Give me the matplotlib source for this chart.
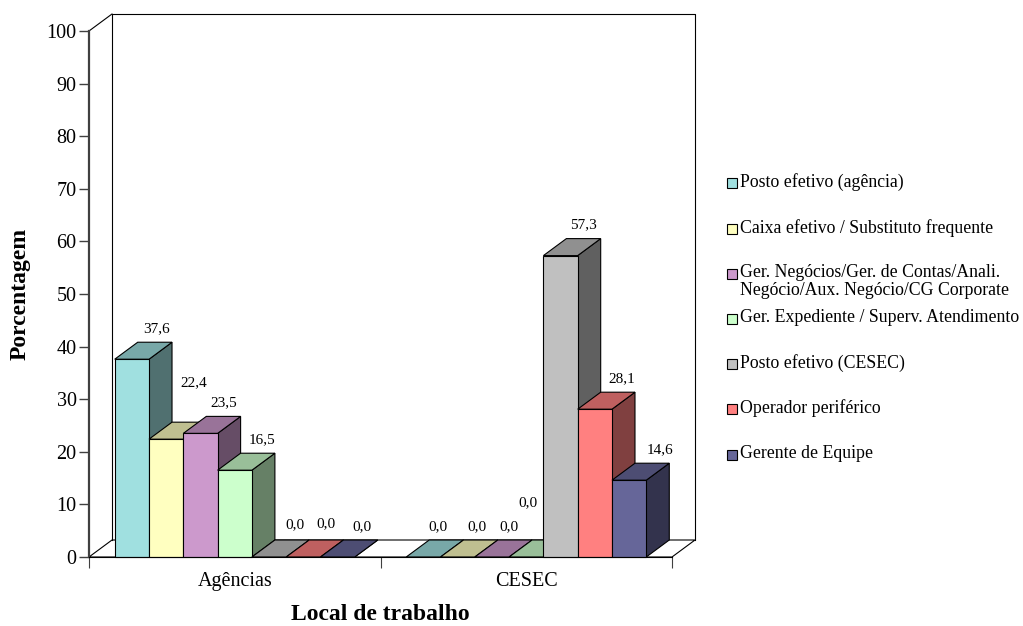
import matplotlib.pyplot as plt
from matplotlib.patches import Polygon, Rectangle
from matplotlib.colors import to_rgb

plt.rcParams['font.family'] = ['Liberation Serif', 'DejaVu Serif']

# categories and series
locais = ['Agências', 'CESEC']
cargos = ['Posto efetivo (agência)',
          'Caixa efetivo / Substituto frequente',
          'Ger. Negócios/Ger. de Contas/Anali.\nNegócio/Aux. Negócio/CG Corporate',
          'Ger. Expediente / Superv. Atendimento',
          'Posto efetivo (CESEC)',
          'Operador periférico',
          'Gerente de Equipe']
agencias = [37.6, 22.4, 23.5, 16.5, 0.0, 0.0, 0.0]
cesec = [0.0, 0.0, 0.0, 0.0, 57.3, 28.1, 14.6]
valores = [agencias, cesec]

cores = ['#A0E0E0', '#FFFFC0', '#CC99CC', '#CCFFCC', '#C0C0C0', '#FF8080', '#666699']

# label nudges in points (x, y), per group and series
ajuste = [[(1, 0), (3, 19), (0, 0), (3, 0), (2, 1), (0, 2), (1, 0)],
          [(-6, 0), (-3, 0), (-4, 0), (-15, 17), (0, 0), (3, 0), (6, 0)]]


def tom(c, f):
    r, g, b = to_rgb(c)
    return (r * f, g * f, b * f)


fig = plt.figure(figsize=(10.23, 6.26), dpi=100)
W, H = 1023, 626
x0, x1, y0, y1 = 89, 672, 557, 31
ax = fig.add_axes([x0 / W, 1 - y0 / H, (x1 - x0) / W, (y0 - y1) / H])
ax.set_xlim(0, 2)
ax.set_ylim(0, 100)

# depth offset of the 3D box, in data units
DX = 23 / ((x1 - x0) / 2)
DY = 17 / ((y0 - y1) / 100)

lw = 0.8
# walls and floor
ax.add_patch(Polygon([(0, 0), (DX, DY), (2 + DX, DY), (2, 0)], closed=True,
                     facecolor='white', edgecolor='black', lw=lw, clip_on=False, zorder=1))
ax.plot([DX, DX, 2 + DX, 2 + DX], [DY, 100 + DY, 100 + DY, DY], color='black', lw=lw,
        clip_on=False, zorder=1)
ax.plot([0, DX], [100, 100 + DY], color='black', lw=lw, clip_on=False, zorder=1)

n = len(cargos)
w = 1 / (n + 1.5)
z = 2
for g, vals in enumerate(valores):
    for i, v in enumerate(vals):
        left = g + 0.75 * w + i * w
        right = left + w
        c = cores[i]
        # side face
        ax.add_patch(Polygon([(right, 0), (right + DX, DY), (right + DX, v + DY), (right, v)],
                             closed=True, facecolor=tom(c, 0.5), edgecolor='black', lw=lw,
                             clip_on=False, zorder=z))
        # top face
        ax.add_patch(Polygon([(left, v), (right, v), (right + DX, v + DY), (left + DX, v + DY)],
                             closed=True, facecolor=tom(c, 0.75), edgecolor='black', lw=lw,
                             clip_on=False, zorder=z + 0.1))
        # front face
        if v > 0:
            ax.bar(left, v, width=w, align='edge', color=c, edgecolor='black', lw=lw,
                   zorder=z + 0.2, clip_on=False)
        z += 1
        ox, oy = ajuste[g][i]
        ax.annotate(f'{v:.1f}'.replace('.', ','), (left + w / 2 + DX, v + DY),
                    xytext=(ox, 5 + oy), textcoords='offset points',
                    ha='center', va='bottom', fontsize=11, zorder=50)

# axes styling
for s in ['top', 'right']:
    ax.spines[s].set_visible(False)
ax.spines['left'].set_color('#404040')
ax.spines['left'].set_linewidth(1.6)
ax.spines['left'].set_zorder(60)
ax.spines['bottom'].set_linewidth(lw)
ax.spines['bottom'].set_zorder(60)

ax.set_yticks(range(0, 101, 10))
ax.tick_params(axis='y', direction='out', length=7, width=1, labelsize=14.5, pad=2,
               color='#404040')
ax.set_xticks([0, 1, 2])
ax.set_xticklabels([])
ax.set_xticks([0.5, 1.5], minor=True)
ax.set_xticklabels(locais, minor=True, fontsize=14.5)
ax.tick_params(axis='x', which='major', direction='out', length=8, width=0.8, color='#404040')
ax.tick_params(axis='x', which='minor', length=0, pad=11)

ax.set_xlabel('Local de trabalho', fontsize=17, fontweight='bold', labelpad=9)
ax.set_ylabel('Porcentagem', fontsize=17, fontweight='bold', labelpad=11)

# legend
ly = [183, 229, 274, 319, 364, 409, 455]
for i, nome in enumerate(cargos):
    yc = 1 - ly[i] / H
    fig.patches.append(Rectangle((727 / W, yc - 5 / H), 10 / W, 10 / H, transform=fig.transFigure,
                                 facecolor=cores[i], edgecolor='black', lw=0.8))
    fig.text(740 / W, yc + 10 / H, nome, fontsize=12.8, va='top', ha='left', linespacing=1.05)

fig.savefig('out.png', dpi=100)
